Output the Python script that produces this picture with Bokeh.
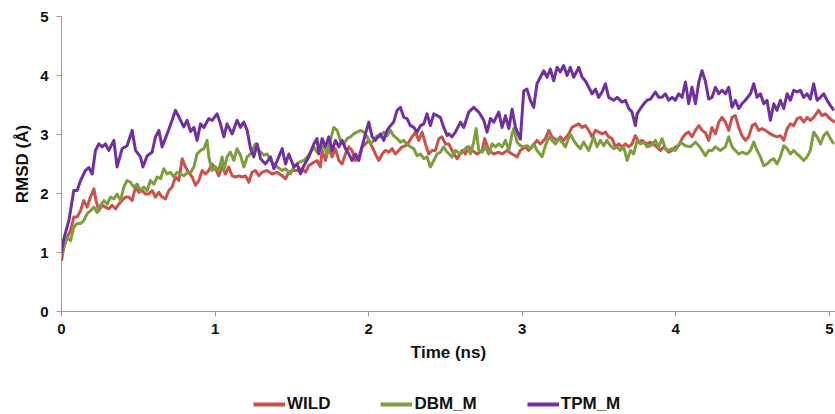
from bokeh.plotting import figure
from bokeh.layouts import column
from bokeh.models import Range1d, FixedTicker, Legend, LegendItem, ColumnDataSource
from bokeh.embed import file_html
from bokeh.resources import INLINE

# ---------------- data ----------------
series_names = ["WILD", "DBM_M", "TPM_M"]
series_colors = ["#CC504C", "#7E9D3E", "#7030A0"]

wild_time = [0.000, 0.015, 0.037, 0.059, 0.080, 0.102, 0.124, 0.145, 0.167, 0.189, 0.211, 0.225, 0.243, 0.265, 0.286, 0.308, 0.330, 0.352, 0.373, 0.395,
             0.417, 0.438, 0.460, 0.482, 0.503, 0.525, 0.547, 0.568, 0.590, 0.612, 0.634, 0.655, 0.677, 0.699, 0.720, 0.742, 0.764, 0.786, 0.807, 0.829,
             0.851, 0.872, 0.894, 0.916, 0.938, 0.959, 0.981, 1.003, 1.024, 1.046, 1.068, 1.089, 1.111, 1.133, 1.154, 1.176, 1.198, 1.220, 1.241, 1.263,
             1.285, 1.306, 1.339, 1.371, 1.404, 1.437, 1.459, 1.480, 1.502, 1.535, 1.567, 1.589, 1.610, 1.643, 1.664, 1.686, 1.697, 1.719, 1.740, 1.762,
             1.784, 1.806, 1.827, 1.849, 1.871, 1.892, 1.914, 1.936, 1.957, 1.979, 2.001, 2.023, 2.044, 2.066, 2.088, 2.109, 2.131, 2.153, 2.174, 2.196,
             2.218, 2.240, 2.261, 2.283, 2.305, 2.326, 2.348, 2.370, 2.391, 2.413, 2.435, 2.457, 2.478, 2.500, 2.522, 2.543, 2.576, 2.609, 2.630, 2.652,
             2.674, 2.706, 2.739, 2.756, 2.782, 2.815, 2.847, 2.869, 2.902, 2.934, 2.967, 2.988, 3.021, 3.042, 3.064, 3.096, 3.118, 3.151, 3.173, 3.194,
             3.227, 3.248, 3.270, 3.303, 3.324, 3.346, 3.368, 3.390, 3.411, 3.433, 3.455, 3.477, 3.498, 3.520, 3.542, 3.563, 3.585, 3.607, 3.628, 3.650,
             3.672, 3.694, 3.715, 3.737, 3.759, 3.780, 3.813, 3.835, 3.867, 3.900, 3.922, 3.954, 3.976, 3.997, 4.019, 4.041, 4.063, 4.084, 4.106, 4.128,
             4.150, 4.171, 4.193, 4.214, 4.236, 4.258, 4.280, 4.301, 4.323, 4.345, 4.366, 4.388, 4.410, 4.431, 4.453, 4.475, 4.497, 4.518, 4.540, 4.562,
             4.584, 4.616, 4.638, 4.659, 4.681, 4.703, 4.725, 4.746, 4.768, 4.790, 4.811, 4.833, 4.855, 4.876, 4.898, 4.930, 4.952, 4.974, 4.996, 5.017,
             5.040]
wild_rmsd = [0.86, 1.09, 1.26, 1.37, 1.60, 1.60, 1.71, 1.88, 1.77, 1.94, 2.08, 1.88, 1.71, 1.80, 1.77, 1.74, 1.80, 1.74, 1.82, 1.88,
             1.94, 1.94, 1.88, 2.11, 2.02, 2.05, 1.99, 1.99, 2.05, 1.94, 2.02, 1.94, 1.91, 2.05, 2.11, 2.28, 2.22, 2.59, 2.45, 2.35,
             2.28, 2.14, 2.22, 2.39, 2.33, 2.39, 2.50, 2.42, 2.30, 2.45, 2.33, 2.45, 2.30, 2.28, 2.30, 2.28, 2.30, 2.19, 2.36, 2.39,
             2.30, 2.36, 2.39, 2.33, 2.36, 2.30, 2.25, 2.36, 2.39, 2.39, 2.42, 2.36, 2.47, 2.53, 2.56, 2.45, 2.73, 2.56, 2.79, 2.62,
             2.76, 2.56, 2.50, 2.67, 2.79, 2.73, 2.56, 2.62, 2.79, 2.84, 2.90, 2.79, 2.67, 2.56, 2.67, 2.73, 2.70, 2.76, 2.67, 2.73,
             2.79, 2.81, 2.87, 2.96, 3.04, 2.90, 3.04, 2.84, 2.67, 2.73, 2.73, 2.93, 2.96, 2.84, 2.84, 2.73, 2.59, 2.73, 2.67, 2.79,
             2.73, 2.67, 2.73, 2.93, 2.73, 2.67, 2.70, 2.67, 2.73, 2.67, 2.62, 2.73, 2.79, 2.73, 2.79, 2.90, 2.84, 2.93, 3.07, 2.96,
             2.90, 2.96, 2.90, 3.01, 3.12, 3.15, 3.18, 3.12, 3.15, 3.07, 2.96, 3.07, 3.04, 3.01, 3.04, 2.96, 2.93, 2.79, 2.84, 2.79,
             2.84, 2.79, 2.84, 2.98, 2.87, 2.90, 2.84, 2.87, 2.81, 2.73, 2.79, 2.70, 2.73, 2.79, 2.81, 2.93, 3.01, 3.04, 2.96, 3.07,
             3.15, 3.07, 3.03, 2.90, 3.12, 3.01, 3.21, 3.29, 3.21, 3.07, 3.29, 3.32, 3.12, 2.98, 2.90, 2.96, 3.15, 3.18, 3.07, 3.10,
             3.07, 3.01, 2.98, 2.96, 2.98, 2.90, 3.10, 3.18, 3.15, 3.27, 3.29, 3.21, 3.29, 3.24, 3.29, 3.41, 3.32, 3.35, 3.29, 3.24,
             3.21]

dbm_time = [0.000, 0.015, 0.037, 0.059, 0.080, 0.102, 0.124, 0.145, 0.167, 0.189, 0.211, 0.232, 0.254, 0.276, 0.298, 0.319, 0.341, 0.362, 0.384, 0.406,
            0.427, 0.449, 0.471, 0.492, 0.514, 0.536, 0.558, 0.579, 0.601, 0.623, 0.645, 0.666, 0.688, 0.710, 0.731, 0.753, 0.775, 0.796, 0.818, 0.840,
            0.862, 0.883, 0.905, 0.927, 0.948, 0.959, 0.981, 1.003, 1.024, 1.046, 1.057, 1.078, 1.100, 1.122, 1.143, 1.165, 1.187, 1.209, 1.231, 1.263,
            1.285, 1.317, 1.339, 1.371, 1.404, 1.437, 1.459, 1.491, 1.513, 1.546, 1.578, 1.610, 1.643, 1.664, 1.686, 1.708, 1.730, 1.751, 1.773, 1.795,
            1.816, 1.838, 1.860, 1.882, 1.903, 1.925, 1.947, 1.968, 1.990, 2.012, 2.033, 2.055, 2.077, 2.098, 2.120, 2.142, 2.163, 2.185, 2.207, 2.229,
            2.250, 2.272, 2.294, 2.315, 2.337, 2.359, 2.380, 2.402, 2.424, 2.446, 2.467, 2.489, 2.511, 2.533, 2.543, 2.565, 2.598, 2.619, 2.641, 2.663,
            2.684, 2.700, 2.717, 2.739, 2.760, 2.782, 2.804, 2.826, 2.847, 2.869, 2.891, 2.913, 2.934, 2.945, 2.967, 2.988, 3.010, 3.031, 3.053, 3.075,
            3.096, 3.129, 3.151, 3.173, 3.194, 3.216, 3.238, 3.259, 3.281, 3.313, 3.335, 3.357, 3.379, 3.400, 3.433, 3.466, 3.487, 3.509, 3.531, 3.552,
            3.574, 3.596, 3.618, 3.639, 3.661, 3.683, 3.705, 3.726, 3.748, 3.770, 3.792, 3.813, 3.835, 3.867, 3.889, 3.911, 3.932, 3.954, 3.976, 3.997,
            4.030, 4.063, 4.095, 4.128, 4.150, 4.171, 4.193, 4.214, 4.236, 4.258, 4.290, 4.323, 4.345, 4.366, 4.388, 4.410, 4.431, 4.464, 4.486, 4.508,
            4.529, 4.551, 4.573, 4.594, 4.616, 4.638, 4.659, 4.681, 4.703, 4.725, 4.746, 4.768, 4.790, 4.811, 4.833, 4.855, 4.876, 4.898, 4.920, 4.942,
            4.963, 4.985, 5.007, 5.029]
dbm_rmsd = [0.95, 1.09, 1.26, 1.20, 1.43, 1.49, 1.49, 1.54, 1.66, 1.71, 1.77, 1.68, 1.80, 1.88, 1.82, 1.94, 1.91, 1.99, 1.88, 2.11,
            2.22, 2.19, 2.11, 2.16, 2.05, 2.11, 2.05, 2.22, 2.16, 2.28, 2.25, 2.42, 2.33, 2.36, 2.28, 2.36, 2.33, 2.30, 2.35, 2.35,
            2.45, 2.67, 2.73, 2.76, 2.90, 2.62, 2.39, 2.45, 2.39, 2.62, 2.39, 2.62, 2.70, 2.56, 2.76, 2.65, 2.45, 2.62, 2.67, 2.84,
            2.73, 2.65, 2.67, 2.53, 2.45, 2.39, 2.42, 2.33, 2.45, 2.53, 2.56, 2.65, 2.79, 2.70, 2.73, 2.81, 2.67, 2.90, 3.12, 3.07,
            2.90, 2.84, 2.93, 2.96, 3.01, 3.04, 3.07, 3.04, 2.96, 2.84, 2.90, 2.98, 2.96, 3.04, 2.98, 3.07, 2.98, 2.93, 2.87, 2.90,
            2.84, 2.79, 2.76, 2.64, 2.67, 2.59, 2.62, 2.45, 2.56, 2.67, 2.70, 2.79, 2.70, 2.65, 2.62, 2.73, 2.67, 2.73, 2.79, 2.67,
            2.87, 3.10, 2.73, 2.70, 2.79, 2.67, 2.84, 2.79, 2.84, 2.79, 2.90, 2.73, 3.01, 3.10, 2.87, 2.81, 2.79, 2.81, 2.76, 2.84,
            2.73, 2.62, 2.81, 2.96, 2.90, 2.84, 2.93, 2.87, 2.79, 3.01, 2.90, 2.82, 2.76, 2.87, 2.73, 2.96, 2.79, 2.90, 2.81, 2.90,
            2.81, 2.76, 2.79, 2.73, 2.79, 2.56, 2.73, 2.67, 2.90, 2.84, 2.87, 2.79, 2.81, 2.90, 2.79, 2.93, 2.76, 2.73, 2.76, 2.73,
            2.87, 2.81, 2.79, 2.87, 2.81, 2.73, 2.64, 2.73, 2.73, 2.79, 2.73, 2.79, 2.96, 2.79, 2.73, 2.67, 2.70, 2.67, 2.73, 2.87,
            2.73, 2.62, 2.47, 2.50, 2.56, 2.59, 2.50, 2.62, 2.81, 2.76, 2.67, 2.73, 2.67, 2.62, 2.56, 2.62, 2.73, 3.04, 2.96, 2.84,
            2.98, 3.04, 2.93, 2.84]

tpm_time = [0.000, 0.015, 0.048, 0.080, 0.102, 0.124, 0.156, 0.178, 0.200, 0.221, 0.243, 0.265, 0.286, 0.308, 0.341, 0.362, 0.395, 0.427, 0.460, 0.482,
            0.514, 0.530, 0.558, 0.590, 0.612, 0.634, 0.655, 0.688, 0.720, 0.742, 0.764, 0.796, 0.818, 0.840, 0.862, 0.883, 0.905, 0.927, 0.959, 0.981,
            1.013, 1.035, 1.057, 1.078, 1.111, 1.143, 1.165, 1.187, 1.209, 1.231, 1.252, 1.274, 1.296, 1.328, 1.361, 1.383, 1.415, 1.437, 1.459, 1.480,
            1.513, 1.535, 1.556, 1.578, 1.610, 1.643, 1.664, 1.675, 1.697, 1.719, 1.740, 1.762, 1.784, 1.806, 1.827, 1.849, 1.871, 1.892, 1.914, 1.936,
            1.957, 1.979, 2.001, 2.023, 2.044, 2.077, 2.098, 2.120, 2.142, 2.163, 2.185, 2.207, 2.229, 2.250, 2.272, 2.294, 2.315, 2.337, 2.359, 2.380,
            2.402, 2.424, 2.446, 2.467, 2.489, 2.511, 2.522, 2.543, 2.565, 2.598, 2.619, 2.652, 2.684, 2.717, 2.750, 2.771, 2.793, 2.815, 2.847, 2.869,
            2.891, 2.913, 2.934, 2.956, 2.988, 3.010, 3.031, 3.053, 3.075, 3.096, 3.118, 3.140, 3.162, 3.183, 3.205, 3.227, 3.248, 3.270, 3.292, 3.313,
            3.335, 3.357, 3.368, 3.390, 3.411, 3.433, 3.455, 3.477, 3.498, 3.520, 3.542, 3.563, 3.596, 3.618, 3.650, 3.672, 3.694, 3.715, 3.737, 3.748,
            3.770, 3.792, 3.813, 3.835, 3.867, 3.889, 3.911, 3.932, 3.954, 3.976, 3.997, 4.019, 4.041, 4.063, 4.084, 4.106, 4.128, 4.150, 4.171, 4.193,
            4.214, 4.236, 4.258, 4.280, 4.301, 4.323, 4.345, 4.366, 4.388, 4.410, 4.431, 4.453, 4.486, 4.508, 4.529, 4.551, 4.573, 4.594, 4.616, 4.638,
            4.659, 4.681, 4.703, 4.725, 4.746, 4.768, 4.790, 4.811, 4.833, 4.855, 4.876, 4.898, 4.920, 4.942, 4.963, 4.985, 5.007, 5.029]
tpm_rmsd = [1.00, 1.23, 1.54, 2.05, 2.05, 2.22, 2.39, 2.44, 2.33, 2.73, 2.84, 2.79, 2.84, 2.73, 2.90, 2.45, 2.76, 2.81, 3.07, 2.73,
            2.62, 2.45, 2.64, 2.70, 2.96, 3.07, 2.79, 3.01, 3.24, 3.41, 3.30, 3.13, 3.24, 3.05, 3.12, 2.90, 3.18, 3.12, 3.27, 3.24,
            3.35, 3.18, 2.96, 3.18, 3.01, 3.24, 3.12, 3.21, 3.07, 2.76, 2.62, 2.84, 2.59, 2.50, 2.62, 2.42, 2.62, 2.76, 2.50, 2.67,
            2.45, 2.50, 2.33, 2.47, 2.62, 2.84, 2.93, 2.67, 2.93, 2.79, 2.96, 2.73, 2.90, 2.79, 2.90, 2.76, 2.67, 2.56, 2.67, 2.56,
            2.79, 3.01, 3.21, 2.96, 2.90, 3.01, 2.90, 3.07, 3.15, 3.21, 3.41, 3.46, 3.29, 3.27, 3.15, 3.12, 3.04, 3.15, 3.18, 3.35,
            3.15, 3.35, 3.32, 3.29, 3.12, 2.98, 3.01, 2.96, 3.04, 3.21, 3.12, 3.38, 3.46, 3.38, 3.24, 3.04, 3.27, 3.21, 3.38, 3.12,
            3.32, 3.10, 3.43, 3.12, 2.92, 3.74, 3.77, 3.58, 3.46, 3.86, 3.97, 4.08, 3.97, 4.11, 3.91, 4.14, 4.06, 4.17, 4.00, 4.14,
            3.97, 4.08, 4.14, 3.97, 3.91, 3.80, 3.69, 3.77, 3.63, 3.72, 3.86, 3.63, 3.58, 3.63, 3.55, 3.58, 3.44, 3.38, 3.15, 3.35,
            3.44, 3.52, 3.58, 3.60, 3.72, 3.63, 3.63, 3.69, 3.58, 3.63, 3.58, 3.69, 3.63, 3.89, 3.52, 3.80, 3.52, 3.89, 4.08, 3.90,
            3.60, 3.63, 3.80, 3.69, 3.75, 3.69, 3.80, 3.46, 3.58, 3.44, 3.52, 3.58, 3.69, 3.86, 3.63, 3.69, 3.52, 3.58, 3.24, 3.52,
            3.41, 3.58, 3.44, 3.69, 3.58, 3.75, 3.72, 3.75, 3.63, 3.69, 3.60, 3.86, 3.58, 3.63, 3.69, 3.58, 3.49, 3.41]

x_ticks = [0, 1, 2, 3, 4, 5]
y_ticks = [0, 1, 2, 3, 4, 5]
x_label = "Time (ns)"
y_label = "RMSD (Å)"

# ---------------- main figure ----------------
FONT = "Liberation Sans"
AXIS_COLOR = "#9a9a9a"
TEXT_COLOR = "#111111"

p = figure(width=835, height=372, output_backend="svg", toolbar_location=None,
           x_range=Range1d(0, 5.04), y_range=Range1d(0, 5),
           min_border_left=61, min_border_right=0, min_border_top=16, min_border_bottom=61)
p.outline_line_color = None
p.background_fill_color = "white"
p.border_fill_color = "white"
p.xgrid.visible = False
p.ygrid.visible = False

series = [(wild_time, wild_rmsd), (dbm_time, dbm_rmsd), (tpm_time, tpm_rmsd)]
for (t, v), name, color in zip(series, series_names, series_colors):
    src = ColumnDataSource(dict(t=t, v=v))
    p.line("t", "v", source=src, line_color=color, line_width=3, line_join="round")

for ax in (p.xaxis[0], p.yaxis[0]):
    ax.axis_line_color = AXIS_COLOR
    ax.axis_line_width = 1
    ax.major_tick_line_color = AXIS_COLOR
    ax.major_tick_out = 5
    ax.major_tick_in = 0
    ax.minor_tick_out = 0
    ax.minor_tick_in = 0
    ax.major_label_text_font = FONT
    ax.major_label_text_font_style = "bold"
    ax.major_label_text_font_size = "15px"
    ax.major_label_text_color = TEXT_COLOR
    ax.axis_label_text_font = FONT
    ax.axis_label_text_font_style = "bold"
    ax.axis_label_text_font_size = "17px"
    ax.axis_label_text_color = TEXT_COLOR

p.xaxis[0].ticker = FixedTicker(ticks=x_ticks)
p.yaxis[0].ticker = FixedTicker(ticks=y_ticks)
p.xaxis[0].axis_label = x_label
p.yaxis[0].axis_label = y_label
p.xaxis[0].major_label_standoff = 7
p.xaxis[0].axis_label_standoff = 6
p.yaxis[0].major_label_standoff = 8
p.yaxis[0].axis_label_standoff = 5

# ---------------- legend strip below the chart ----------------
leg = figure(width=835, height=42, output_backend="svg", toolbar_location=None,
             x_range=Range1d(0, 1), y_range=Range1d(0, 1),
             x_axis_location=None, y_axis_location=None,
             min_border=0, min_border_left=0, min_border_right=0, min_border_top=0, min_border_bottom=0)
leg.xgrid.visible = False
leg.ygrid.visible = False
leg.outline_line_color = None
leg.border_fill_color = "white"

items = []
for name, color in zip(series_names, series_colors):
    # legend key only: a single undefined point draws nothing in the strip
    key_src = ColumnDataSource(dict(t=[float("nan")], v=[float("nan")]))
    r = leg.line("t", "v", source=key_src, line_color=color, line_width=4)
    items.append(LegendItem(label=name, renderers=[r]))

# the column layout aligns this strip's frame with the chart frame (61 px in)
legend = Legend(items=items, orientation="horizontal", location=(192, 0))
legend.label_text_font = FONT
legend.label_text_font_style = "bold"
legend.label_text_font_size = "17px"
legend.label_text_color = TEXT_COLOR
legend.glyph_width = 32
legend.glyph_height = 16
legend.label_standoff = 2
legend.spacing = 50
legend.padding = 0
legend.margin = 0
legend.border_line_color = None
legend.background_fill_alpha = 0
leg.add_layout(legend, "center")

layout = column(p, leg, spacing=0)
open("out.html", "w").write(file_html(layout, INLINE))
